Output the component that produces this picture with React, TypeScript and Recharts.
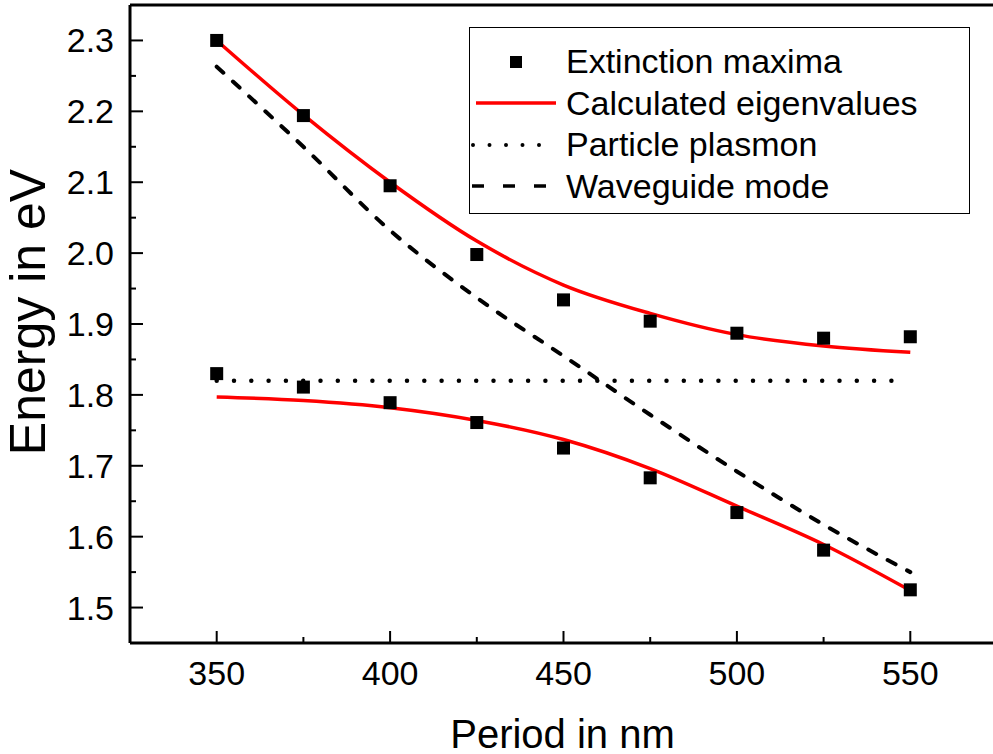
import React from "react";
import {
  ComposedChart,
  Line,
  Scatter,
  XAxis,
  YAxis,
  Legend,
} from "recharts";

const periods = [350, 375, 400, 425, 450, 475, 500, 525, 550];
const extinctionUpper = [2.3, 2.194, 2.095, 1.998, 1.934, 1.904, 1.887, 1.88, 1.882];
const extinctionLower = [1.83, 1.811, 1.789, 1.761, 1.725, 1.683, 1.634, 1.581, 1.525];
const eigenUpper = [2.3, 2.195, 2.1, 2.017, 1.955, 1.915, 1.885, 1.869, 1.86];
const eigenLower = [1.797, 1.792, 1.782, 1.764, 1.737, 1.696, 1.643, 1.589, 1.524];
const waveguide = [2.263, 2.15, 2.032, 1.937, 1.855, 1.772, 1.692, 1.617, 1.55];
const plasmonPeriods = [350, 545];
const plasmon = [1.82, 1.82];

const xTicks = [350, 375, 400, 425, 450, 475, 500, 525, 550];
const yTicks = [
  1.5, 1.55, 1.6, 1.65, 1.7, 1.75, 1.8, 1.85, 1.9, 1.95, 2.0, 2.05, 2.1, 2.15,
  2.2, 2.25, 2.3,
];

const legendItems = [
  { name: "Extinction maxima", kind: "square" },
  { name: "Calculated eigenvalues", kind: "red" },
  { name: "Particle plasmon", kind: "dot" },
  { name: "Waveguide mode", kind: "dash" },
];

const toPoints = (xs: number[], ys: number[]) =>
  xs.map((p, i) => ({ period: p, energy: ys[i] }));

const extinctionData = [
  ...toPoints(periods, extinctionUpper),
  ...toPoints(periods, extinctionLower),
];
const eigenUpperData = toPoints(periods, eigenUpper);
const eigenLowerData = toPoints(periods, eigenLower);
const waveguideData = toPoints(periods, waveguide);
const plasmonData = toPoints(plasmonPeriods, plasmon);

const FONT = '"Liberation Sans", Arial, sans-serif';

// plot frame (chart is 1000 wide, clipped to 993)
const CHART_W = 1000;
const CHART_H = 754;
const LEFT_W = 130;
const RIGHT_W = 3;
const TOP_H = 5;
const BOTTOM_H = 111;
const PLOT_LEFT = LEFT_W;
const PLOT_RIGHT = CHART_W - RIGHT_W;
const PLOT_TOP = TOP_H;
const PLOT_BOTTOM = CHART_H - BOTTOM_H;

const isMajorX = (v: number) => v % 50 === 0;
const isMajorY = (v: number) => Math.round(v * 100) % 10 === 0;

const BottomTick = (props: any) => {
  const { x, payload } = props;
  const v = payload.value;
  const major = isMajorX(v);
  const y = PLOT_BOTTOM;
  return (
    <g>
      <line x1={x} x2={x} y1={y} y2={y - (major ? 12 : 6)} stroke="#000" strokeWidth={2} />
      {major && (
        <text x={x} y={y + 42} textAnchor="middle" fontSize={34} fontFamily={FONT} fill="#000">
          {v}
        </text>
      )}
    </g>
  );
};

const TopTick = (props: any) => {
  const { x, payload } = props;
  const major = isMajorX(payload.value);
  const y = PLOT_TOP;
  return <line x1={x} x2={x} y1={y} y2={y + (major ? 13 : 7)} stroke="#000" strokeWidth={2} />;
};

const LeftTick = (props: any) => {
  const { y, payload } = props;
  const v = payload.value;
  const major = isMajorY(v);
  const x = PLOT_LEFT;
  return (
    <g>
      <line x1={x} x2={x + (major ? 13 : 6)} y1={y} y2={y} stroke="#000" strokeWidth={2} />
      {major && (
        <text x={x - 16} y={y + 12} textAnchor="end" fontSize={34} fontFamily={FONT} fill="#000">
          {v.toFixed(1)}
        </text>
      )}
    </g>
  );
};

const RightTick = (props: any) => {
  const { y, payload } = props;
  const major = isMajorY(payload.value);
  const x = PLOT_RIGHT;
  return <line x1={x} x2={x - (major ? 15 : 8)} y1={y} y2={y} stroke="#000" strokeWidth={2} />;
};

const YTitle = () => {
  const cy = 312;
  const bx = 45;
  return (
    <text
      x={bx}
      y={cy}
      transform={`rotate(-90 ${bx} ${cy})`}
      textAnchor="middle"
      fontSize={50}
      fontFamily={FONT}
      fill="#000"
    >
      Energy in eV
    </text>
  );
};

const XTitle = () => {
  const cx = (PLOT_LEFT + PLOT_RIGHT) / 2 - 1;
  return (
    <text x={cx} y={748} textAnchor="middle" fontSize={40} fontFamily={FONT} fill="#000">
      Period in nm
    </text>
  );
};

const LegendSymbol = ({ kind }: { kind: string }) => (
  <svg width={88} height={20} style={{ display: "block", flex: "none" }}>
    {kind === "square" && <rect x={40} y={4} width={12} height={12} fill="#000" />}
    {kind === "red" && <line x1={6} x2={86} y1={10} y2={10} stroke="#ff0000" strokeWidth={3.5} />}
    {kind === "dot" && (
      <line x1={3} x2={84} y1={10} y2={10} stroke="#000" strokeWidth={4} strokeDasharray="0 16.5" strokeLinecap="round" />
    )}
    {kind === "dash" && (
      <line x1={2} x2={84} y1={10} y2={10} stroke="#000" strokeWidth={3.5} strokeDasharray="12 19" />
    )}
  </svg>
);

const LegendBox = () => (
  <div
    style={{
      border: "1.5px solid #000",
      background: "#fff",
      boxSizing: "border-box",
      height: 187,
      paddingTop: 13,
      fontFamily: FONT,
      fontSize: 34,
      color: "#000",
    }}
  >
    {legendItems.map((item) => (
      <div key={item.name} style={{ display: "flex", alignItems: "center", height: 41.5 }}>
        <LegendSymbol kind={item.kind} />
        <span style={{ marginLeft: 8, whiteSpace: "nowrap", lineHeight: "41.5px" }}>{item.name}</span>
      </div>
    ))}
  </div>
);

export default function App() {
  return (
    <div
      style={{
        position: "absolute",
        left: 0,
        top: 0,
        width: 993,
        height: 754,
        overflow: "hidden",
        background: "#fff",
      }}
    >
      <ComposedChart width={CHART_W} height={CHART_H} margin={{ top: 0, right: 0, bottom: 0, left: 0 }}>
        <XAxis
          xAxisId="b"
          type="number"
          dataKey="period"
          domain={[325, 575]}
          ticks={xTicks}
          orientation="bottom"
          height={BOTTOM_H}
          tickSize={0}
          tickMargin={0}
          tickLine={false}
          tick={<BottomTick />}
          axisLine={{ stroke: "#000", strokeWidth: 3 }}
          label={<XTitle />}
        />
        <XAxis
          xAxisId="t"
          type="number"
          dataKey="period"
          domain={[325, 575]}
          ticks={xTicks}
          orientation="top"
          height={TOP_H}
          tickSize={0}
          tickMargin={0}
          tickLine={false}
          tick={<TopTick />}
          axisLine={{ stroke: "#000", strokeWidth: 3 }}
        />
        <YAxis
          yAxisId="l"
          type="number"
          domain={[1.45, 2.35]}
          ticks={yTicks}
          width={LEFT_W}
          tickSize={0}
          tickMargin={0}
          tickLine={false}
          tick={<LeftTick />}
          axisLine={{ stroke: "#000", strokeWidth: 3 }}
          label={<YTitle />}
        />
        <YAxis
          yAxisId="r"
          orientation="right"
          type="number"
          domain={[1.45, 2.35]}
          ticks={yTicks}
          width={RIGHT_W}
          tickSize={0}
          tickMargin={0}
          tickLine={false}
          tick={<RightTick />}
          axisLine={{ stroke: "#000", strokeWidth: 3 }}
        />
        <Line
          xAxisId="b"
          yAxisId="l"
          data={plasmonData}
          dataKey="energy"
          type="linear"
          stroke="#000"
          strokeWidth={4.5}
          strokeDasharray="0 17.3"
          strokeLinecap="round"
          dot={false}
          activeDot={false}
          isAnimationActive={false}
        />
        <Line
          xAxisId="b"
          yAxisId="l"
          data={waveguideData}
          dataKey="energy"
          type="monotone"
          stroke="#000"
          strokeWidth={4}
          strokeDasharray="9 13"
          strokeLinecap="round"
          dot={false}
          activeDot={false}
          isAnimationActive={false}
        />
        <Line
          xAxisId="b"
          yAxisId="l"
          data={eigenUpperData}
          dataKey="energy"
          type="monotone"
          stroke="#ff0000"
          strokeWidth={3.5}
          dot={false}
          activeDot={false}
          isAnimationActive={false}
        />
        <Line
          xAxisId="b"
          yAxisId="l"
          data={eigenLowerData}
          dataKey="energy"
          type="monotone"
          stroke="#ff0000"
          strokeWidth={3.5}
          dot={false}
          activeDot={false}
          isAnimationActive={false}
        />
        <Scatter
          xAxisId="b"
          yAxisId="l"
          data={extinctionData}
          dataKey="energy"
          fill="#000"
          isAnimationActive={false}
          shape={(p: any) => (
            <rect x={p.cx - 6.5} y={p.cy - 6.5} width={13} height={13} fill="#000" />
          )}
        />
        <Legend
          layout="vertical"
          align="center"
          verticalAlign="middle"
          wrapperStyle={{ left: 469, top: 27, width: 501 }}
          content={LegendBox}
        />
      </ComposedChart>
    </div>
  );
}
